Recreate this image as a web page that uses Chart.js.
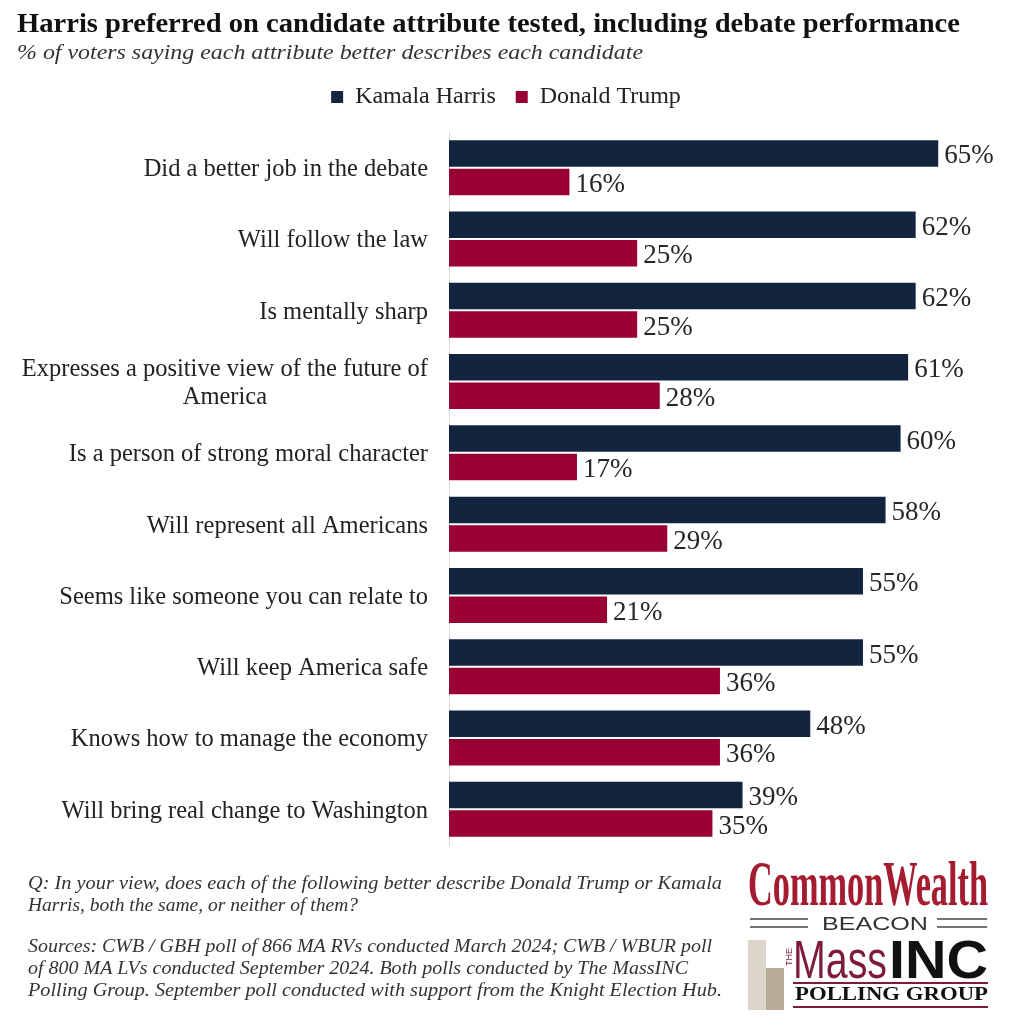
<!DOCTYPE html>
<html>
<head>
<meta charset="utf-8">
<script src="https://cdn.jsdelivr.net/npm/chart.js@4"></script>
<style>
  html, body { margin: 0; padding: 0; background: #fff; }
  #page { position: relative; width: 1012px; height: 1024px; overflow: hidden; background: #fff; }
  #chartBox { position: absolute; left: 0; top: 65px; width: 1012px; height: 792px; }
  #overlay { position: absolute; left: 0; top: 0; width: 1012px; height: 1024px; pointer-events: none; }
</style>
</head>
<body>
<div id="page">
  <div id="chartBox"><canvas id="barChart"></canvas></div>
  <svg id="overlay" width="1012" height="1024" xmlns="http://www.w3.org/2000/svg">
    <g font-family="Liberation Serif, serif" fill="#111">
      <text x="17" y="32" font-size="28" font-weight="bold" textLength="943" lengthAdjust="spacingAndGlyphs">Harris preferred on candidate attribute tested, including debate performance</text>
      <text x="17" y="59" font-size="22" font-style="italic" fill="#333" textLength="626" lengthAdjust="spacingAndGlyphs">% of voters saying each attribute better describes each candidate</text>
    </g>
    <g font-family="Liberation Serif, serif" font-style="italic" font-size="19" fill="#333">
      <text x="28" y="889" textLength="694" lengthAdjust="spacingAndGlyphs">Q: In your view, does each of the following better describe Donald Trump or Kamala</text>
      <text x="28" y="911" textLength="330" lengthAdjust="spacingAndGlyphs">Harris, both the same, or neither of them?</text>
      <text x="28" y="952" textLength="684" lengthAdjust="spacingAndGlyphs">Sources: CWB / GBH poll of 866 MA RVs conducted March 2024; CWB / WBUR poll</text>
      <text x="28" y="974" textLength="660" lengthAdjust="spacingAndGlyphs">of 800 MA LVs conducted September 2024. Both polls conducted by The MassINC</text>
      <text x="28" y="996" textLength="694" lengthAdjust="spacingAndGlyphs">Polling Group. September poll conducted with support from the Knight Election Hub.</text>
    </g>
    <!-- logo -->
    <g>
      <text x="748" y="905" font-family="Liberation Serif, serif" font-weight="bold" font-size="64" fill="#A51C30" textLength="240" lengthAdjust="spacingAndGlyphs">CommonWealth</text>
      <line x1="750" y1="919" x2="808" y2="919" stroke="#444" stroke-width="1.5"/>
      <line x1="750" y1="927" x2="808" y2="927" stroke="#444" stroke-width="1.5"/>
      <line x1="937" y1="919" x2="987" y2="919" stroke="#444" stroke-width="1.5"/>
      <line x1="937" y1="927" x2="987" y2="927" stroke="#444" stroke-width="1.5"/>
      <text x="822" y="930" font-family="Liberation Sans, sans-serif" font-size="18" fill="#333" textLength="106" lengthAdjust="spacingAndGlyphs">BEACON</text>
      <rect x="748" y="940" width="18" height="70" fill="#DCD5CA"/>
      <rect x="766" y="968" width="18" height="42" fill="#B7AB98"/>
      <text transform="translate(792,966) rotate(-90)" font-family="Liberation Sans, sans-serif" font-size="9" fill="#7E1A3C">THE</text>
      <text x="793" y="978" font-family="Liberation Sans, sans-serif" font-size="53" fill="#7E1A3C" textLength="94" lengthAdjust="spacingAndGlyphs">Mass</text>
      <text x="889" y="978" font-family="Liberation Sans, sans-serif" font-weight="bold" font-size="53" fill="#111" textLength="99" lengthAdjust="spacingAndGlyphs">INC</text>
      <line x1="793" y1="983" x2="988" y2="983" stroke="#7E1A3C" stroke-width="2"/>
      <text x="795" y="1000" font-family="Liberation Serif, serif" font-weight="bold" font-size="18" fill="#111" textLength="193" lengthAdjust="spacingAndGlyphs">POLLING GROUP</text>
      <line x1="793" y1="1007" x2="988" y2="1007" stroke="#7E1A3C" stroke-width="2"/>
    </g>
  </svg>
</div>
<script>
// Data
const ATTRIBUTES = [
  'Did a better job in the debate',
  'Will follow the law',
  'Is mentally sharp',
  ['Expresses a positive view of the future of', 'America'],
  'Is a person of strong moral character',
  'Will represent all Americans',
  'Seems like someone you can relate to',
  'Will keep America safe',
  'Knows how to manage the economy',
  'Will bring real change to Washington'
];
const HARRIS = [65, 62, 62, 61, 60, 58, 55, 55, 48, 39];
const TRUMP = [16, 25, 25, 28, 17, 29, 21, 36, 36, 35];
const SERIES_NAMES = ['Kamala Harris', 'Donald Trump'];

const NAVY = '#13243F';
const MAROON = '#990033';
const SERIF = "'Liberation Serif', serif";

// category labels on the left, right edge 21px before the axis, multi-line blocks centered
const categoryLabels = {
  id: 'categoryLabels',
  afterDraw(chart) {
    const ctx = chart.ctx;
    const yScale = chart.scales.y;
    ctx.save();
    ctx.font = '24.5px ' + SERIF;
    ctx.fillStyle = '#222';
    ctx.textBaseline = 'middle';
    ctx.textAlign = 'center';
    const right = chart.chartArea.left - 21;
    ATTRIBUTES.forEach((label, i) => {
      const lines = Array.isArray(label) ? label : [label];
      const w = Math.max(...lines.map(l => ctx.measureText(l).width));
      const cx = right - w / 2;
      const cy = yScale.getPixelForValue(i) + 2;
      const lh = 28;
      lines.forEach((l, j) => {
        ctx.fillText(l, cx, cy + (j - (lines.length - 1) / 2) * lh);
      });
    });
    ctx.restore();
  }
};

// value labels at the end of each bar
const valueLabels = {
  id: 'valueLabels',
  afterDatasetsDraw(chart) {
    const ctx = chart.ctx;
    ctx.save();
    ctx.font = '27px ' + SERIF;
    ctx.fillStyle = '#262626';
    ctx.textBaseline = 'middle';
    ctx.textAlign = 'left';
    chart.data.datasets.forEach((ds, di) => {
      chart.getDatasetMeta(di).data.forEach((bar, i) => {
        ctx.fillText(ds.data[i] + '%', bar.x + 6, bar.y + 3);
      });
    });
    ctx.restore();
  }
};

new Chart(document.getElementById('barChart'), {
  type: 'bar',
  data: {
    labels: ATTRIBUTES,
    datasets: [
      { label: SERIES_NAMES[0], data: HARRIS, backgroundColor: NAVY },
      { label: SERIES_NAMES[1], data: TRUMP, backgroundColor: MAROON }
    ]
  },
  options: {
    indexAxis: 'y',
    responsive: true,
    maintainAspectRatio: false,
    animation: false,
    categoryPercentage: 0.8,
    barPercentage: 0.93,
    layout: { padding: { left: 0, right: 0, top: 0, bottom: 12 } },
    scales: {
      x: {
        position: 'top',
        display: true,
        min: 0,
        max: 74.8,
        ticks: { display: false },
        grid: { display: false },
        border: { display: false },
        afterFit: s => { s.height = 13; }
      },
      y: {
        display: true,
        grid: { display: false },
        ticks: { display: false },
        border: { display: true, color: '#d9d9d9', width: 1 },
        afterFit: s => { s.width = 449; }
      }
    },
    plugins: {
      legend: {
        position: 'top',
        labels: {
          boxWidth: 12,
          boxHeight: 12,
          padding: 20,
          color: '#222',
          font: { family: SERIF, size: 24 }
        }
      },
      tooltip: { enabled: false }
    }
  },
  plugins: [categoryLabels, valueLabels]
});
</script>
</body>
</html>
